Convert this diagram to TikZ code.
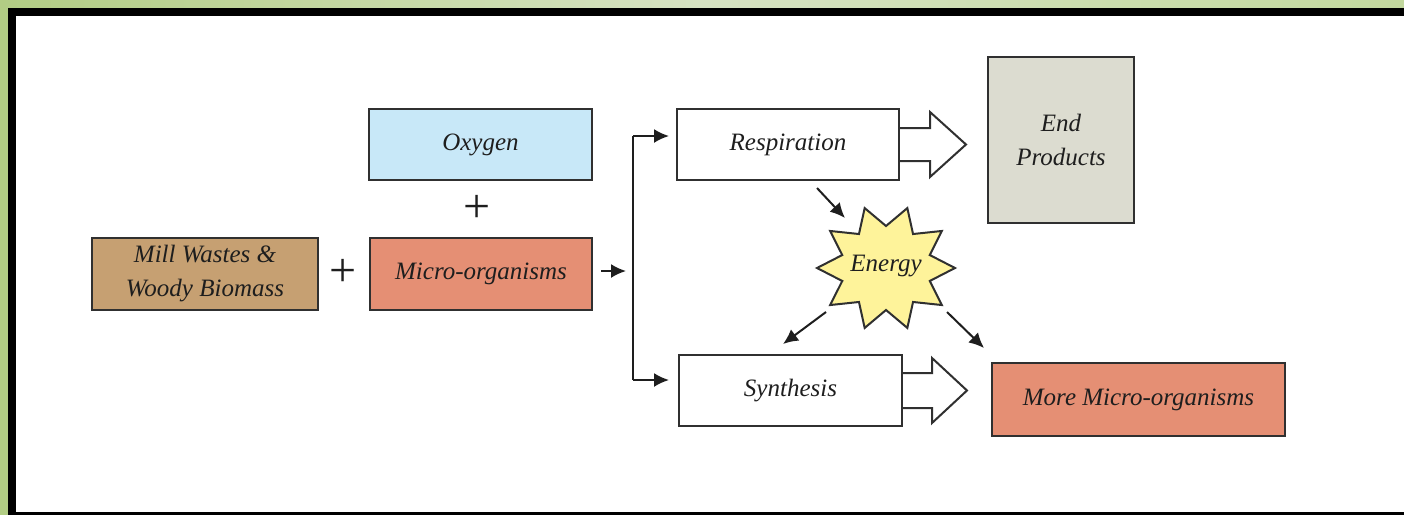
\documentclass[tikz,border=0pt]{standalone}
\usepackage{fontspec}
\setmainfont{Liberation Serif}
\usetikzlibrary{arrows.meta,calc}
\definecolor{gA}{HTML}{B2CD84}
\definecolor{gB}{HTML}{D6E2C2}
\definecolor{gC}{HTML}{C2D89E}
\definecolor{boxline}{HTML}{303030}
\definecolor{textc}{HTML}{1E1E1E}
\definecolor{oxyc}{HTML}{C8E8F8}
\definecolor{millc}{HTML}{C6A072}
\definecolor{microc}{HTML}{E58F74}
\definecolor{endc}{HTML}{DCDCD0}
\definecolor{starc}{HTML}{FEF39A}
\begin{document}
\begin{tikzpicture}[x=1pt,y=-1pt,
  box/.style={draw=boxline, line width=2pt, inner sep=0pt, align=center,
    font=\fontsize{25}{36}\selectfont\itshape, text=textc},
  arr/.style={line width=2pt, draw=textc, -{Latex[length=15pt,width=14pt]}},
  plain/.style={line width=2pt, draw=textc},
  blk/.style={draw=boxline, line width=2pt, fill=white, line join=miter},
  plus/.style={font=\fontsize{48}{48}\selectfont, text=textc, inner sep=0pt}]
% background and frame
\useasboundingbox (0,0) rectangle (1404,515);
\fill[gA] (0,0) rectangle (1404,515);
\shade[left color=gA, right color=gC, middle color=gB] (0,0) rectangle (1404,8);
\fill[black] (8,8) rectangle (1404,515);
\fill[white] (16,16) rectangle (1404,512);

% boxes
\node[box, fill=oxyc, minimum width=223pt, minimum height=71pt] (oxy) at (480.5,144.5) {Oxygen};
\node[plus] (plus1) at (477,209) {+};
\node[box, fill=millc, minimum width=226pt, minimum height=72pt] (mill) at (205,274) {Mill Wastes \&\\[-2pt]Woody Biomass};
\node[plus] (plus2) at (343,273) {+};
\node[box, fill=microc, minimum width=222pt, minimum height=72pt] (micro) at (481,274) {Micro-organisms};
\node[box, fill=white, minimum width=222pt, minimum height=71pt] (resp) at (788,144.5) {Respiration};
\node[box, fill=white, minimum width=223pt, minimum height=71pt] (synth) at (790.5,390.5) {Synthesis};
\node[box, fill=endc, minimum width=146pt, minimum height=166pt] (endp) at (1061,140) {End\\[-2pt]Products};
\node[box, fill=microc, minimum width=293pt, minimum height=73pt] (more) at (1138.5,399.5) {More Micro-organisms};

% block arrows
\draw[blk] ($(resp.east)+(0,-16.5)$) -- ++(30,0) -- ++(0,-16) -- ++(36,32.5) -- ++(-36,32.5) -- ++(0,-16) -- ++(-30,0);
\draw[blk] ($(synth.east)+(0,-17.5)$) -- ++(29,0) -- ++(0,-15) -- ++(35,32.5) -- ++(-35,32.5) -- ++(0,-15) -- ++(-29,0);

% energy star
\fill[starc] plot[variable=\k, samples at={0,...,19}]
  ({886+ifthenelse(mod(\k,2)==0,69,46)*cos(18*\k)},{268+ifthenelse(mod(\k,2)==0,63,42)*sin(18*\k)}) -- cycle;
\draw[boxline, line width=2pt, line join=miter] plot[variable=\k, samples at={0,...,19}]
  ({886+ifthenelse(mod(\k,2)==0,69,46)*cos(18*\k)},{268+ifthenelse(mod(\k,2)==0,63,42)*sin(18*\k)}) -- cycle;
\node[font=\fontsize{25}{30}\selectfont\itshape, text=textc, inner sep=0pt] (energy) at (886,266) {Energy};

% feed connectors
\coordinate (fork) at (626,271);
\coordinate (vtop) at (633,136);
\coordinate (vbot) at (633,380);
\draw[arr] ([xshift=8pt]micro.east |- fork) -- (fork);
\draw[plain] (vtop) -- (vbot);
\draw[arr] (vtop) -- ([xshift=-7pt]resp.west |- vtop);
\draw[arr] (vbot) -- ([xshift=-9pt]synth.west |- vbot);

% energy arrows
\coordinate (e1) at (817,188);
\coordinate (e2) at (845,218);
\coordinate (e3) at (826,312);
\coordinate (e4) at (783,344);
\coordinate (e5) at (947,312);
\coordinate (e6) at (984,348);
\draw[arr] (e1) -- (e2);
\draw[arr] (e3) -- (e4);
\draw[arr] (e5) -- (e6);
\end{tikzpicture}
\end{document}
